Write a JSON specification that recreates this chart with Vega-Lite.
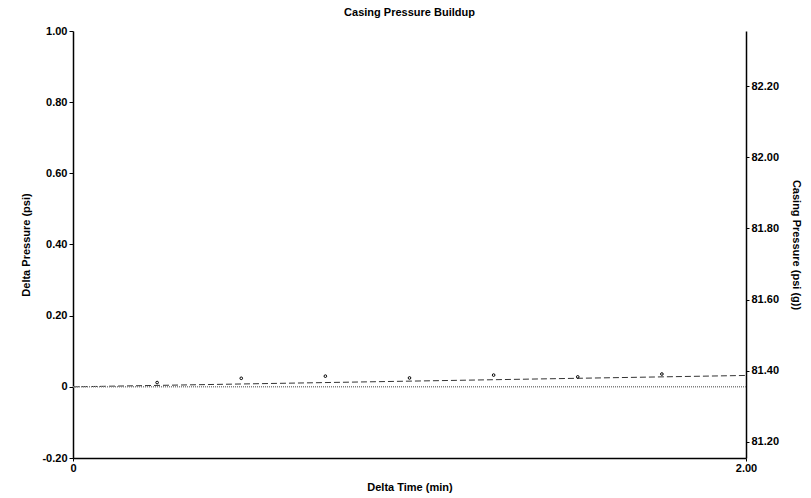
{
  "$schema": "https://vega.github.io/schema/vega-lite/v6.json",
  "width": 673,
  "height": 427,
  "autosize": {"type": "none"},
  "padding": {"left": 73, "top": 31, "right": 65, "bottom": 40},
  "background": "white",
  "config": {
    "view": {"stroke": null},
    "font": "Liberation Sans",
    "axis": {
      "domainColor": "black",
      "domainWidth": 1.5,
      "tickColor": "black",
      "labelColor": "black",
      "titleColor": "black",
      "labelFont": "Liberation Sans",
      "titleFont": "Liberation Sans",
      "labelFontSize": 11,
      "labelFontWeight": "bold",
      "titleFontSize": 11,
      "titleFontWeight": "bold",
      "grid": false
    }
  },
  "title": {
    "text": "Casing Pressure Buildup",
    "font": "Liberation Sans",
    "fontSize": 11,
    "fontWeight": "bold",
    "color": "black",
    "anchor": "middle",
    "offset": 7
  },
  "datasets": {
    "pts": [
      {"t": 0.25, "dp": 0.012},
      {"t": 0.5, "dp": 0.024},
      {"t": 0.75, "dp": 0.030},
      {"t": 1.0, "dp": 0.025},
      {"t": 1.25, "dp": 0.033},
      {"t": 1.5, "dp": 0.028},
      {"t": 1.75, "dp": 0.036}
    ],
    "fit": [
      {"t": 0, "dp": 0},
      {"t": 2, "dp": 0.032}
    ],
    "casing": [
      {"t": 0, "cp": 81.355},
      {"t": 2, "cp": 81.355}
    ]
  },
  "layer": [
    {
      "layer": [
        {
          "data": {"name": "fit"},
          "mark": {"type": "line", "color": "#333333", "strokeWidth": 1, "strokeDash": [6, 3], "clip": true},
          "encoding": {
            "x": {
              "field": "t", "type": "quantitative",
              "scale": {"domain": [0, 2], "nice": false, "zero": false},
              "axis": {
                "title": "Delta Time (min)",
                "values": [0, 2],
                "labelExpr": "datum.value == 0 ? '0' : format(datum.value, '.2f')",
                "tickSize": 3,
                "labelPadding": 1,
                "titlePadding": 8,
                "labelFlush": false
              }
            },
            "y": {
              "field": "dp", "type": "quantitative",
              "scale": {"domain": [-0.2, 1.0], "nice": false, "zero": false},
              "axis": {
                "title": "Delta Pressure (psi)",
                "values": [-0.2, -0.1, 0, 0.1, 0.2, 0.3, 0.4, 0.5, 0.6, 0.7, 0.8, 0.9, 1.0],
                "labelExpr": "round(datum.value*10) % 2 != 0 ? '' : (datum.value == 0 ? '0' : replace(format(datum.value, '.2f'), '\u2212', '-'))",
                "tickSize": {"condition": {"test": "round(datum.value*10) % 2 != 0", "value": 2}, "value": 4},
                "labelPadding": 2,
                "titlePadding": 10,
                "labelFlush": false
              }
            }
          }
        },
        {
          "data": {"name": "pts"},
          "mark": {"type": "point", "shape": "circle", "filled": false, "size": 7, "strokeWidth": 1, "color": "black", "opacity": 1},
          "encoding": {
            "x": {"field": "t", "type": "quantitative"},
            "y": {"field": "dp", "type": "quantitative"}
          }
        }
      ]
    },
    {
      "data": {"name": "casing"},
      "mark": {"type": "line", "color": "#808080", "strokeWidth": 1.5, "strokeDash": [1, 1]},
      "encoding": {
        "x": {"field": "t", "type": "quantitative"},
        "y": {
          "field": "cp", "type": "quantitative",
          "scale": {"domain": [81.155, 82.355], "nice": false, "zero": false},
          "axis": {
            "orient": "right",
            "title": "Casing Pressure (psi (g))",
            "values": [81.2, 81.4, 81.6, 81.8, 82.0, 82.2],
            "format": ".2f",
            "tickSize": 3,
            "labelPadding": 2,
            "titlePadding": 12,
            "labelFlush": false
          }
        }
      }
    }
  ],
  "resolve": {"scale": {"y": "independent"}, "axis": {"y": "independent"}}
}
